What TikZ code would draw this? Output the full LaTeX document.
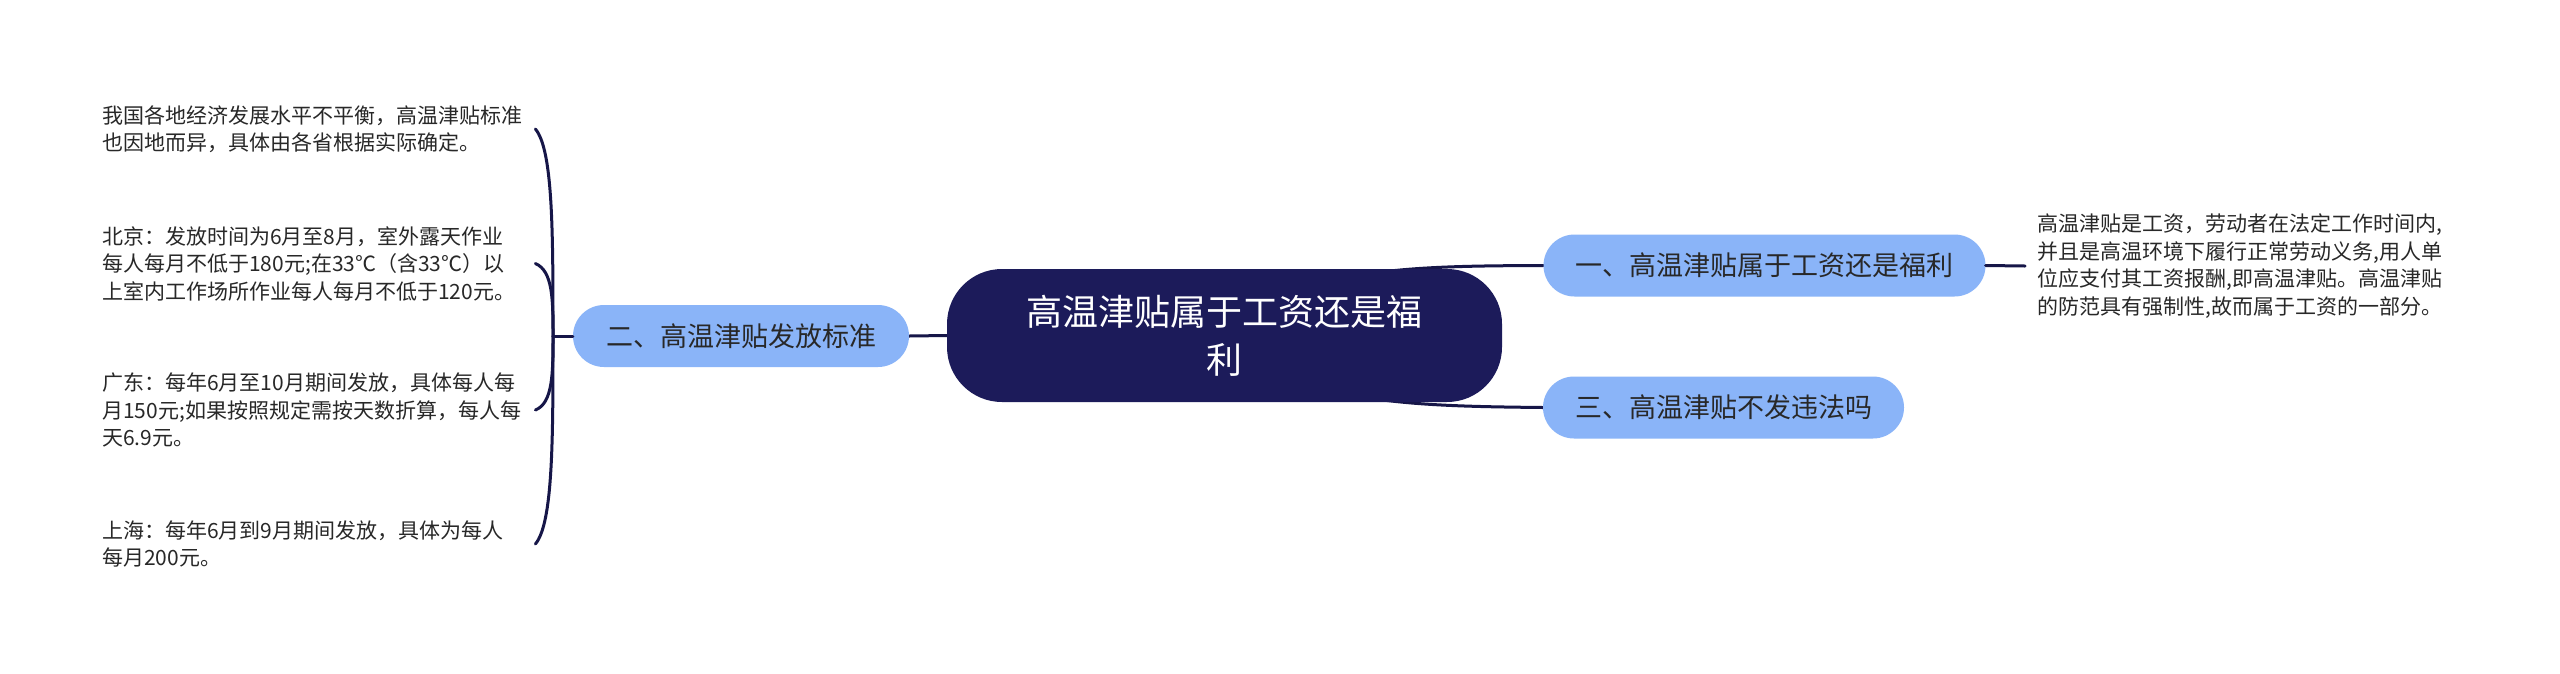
\documentclass[tikz,border=0pt]{standalone}
\usepackage{fontspec}
\newfontfamily\cjk{Noto Sans CJK SC}
\usetikzlibrary{backgrounds}
\definecolor{navy}{RGB}{28,27,90}
\definecolor{edgec}{RGB}{22,22,72}
\definecolor{childfill}{RGB}{138,180,248}
\definecolor{txt}{RGB}{40,40,40}
\tikzset{
  rootbox/.style={fill=navy, draw=none, rounded corners=55pt, minimum width=555pt, minimum height=133pt,
    text=white, font=\cjk\fontsize{36pt}{48pt}\selectfont, align=center, inner sep=0pt},
  childbox/.style={fill=childfill, draw=none, rounded corners=31pt, minimum height=62pt, text=txt,
    font=\cjk\fontsize{27pt}{32pt}\selectfont, inner sep=0pt},
  leaftext/.style={font=\cjk\fontsize{21pt}{27.5pt}\selectfont, text=txt, align=left, inner sep=0pt, anchor=west},
  conn/.style={draw=edgec, line width=3pt, line cap=round}
}
\begin{document}
\begin{tikzpicture}[x=1pt,y=-1pt]
\useasboundingbox (0,0) rectangle (2560,673);
% nodes
\node[rootbox] (root) at (1224.5,335.5) {高温津贴属于工资还是福\\利};
\node[childbox, minimum width=442pt] (c1) at (1764.5,265.5) {一、高温津贴属于工资还是福利};
\node[childbox, minimum width=336pt] (c2) at (741,336) {二、高温津贴发放标准};
\node[childbox, minimum width=361pt] (c3) at (1723.5,407.5) {三、高温津贴不发违法吗};
\node[leaftext, inner xsep=12pt] (r1) at (2025,266) {高温津贴是工资，劳动者在法定工作时间内,\\并且是高温环境下履行正常劳动义务,用人单\\位应支付其工资报酬,即高温津贴。高温津贴\\的防范具有强制性,故而属于工资的一部分。};
\node[leaftext, text width=433pt] (l1) at (102,129) {我国各地经济发展水平不平衡，高温津贴标准\\也因地而异，具体由各省根据实际确定。};
\node[leaftext, text width=433pt] (l2) at (102,263.5) {北京：发放时间为6月至8月，室外露天作业\\每人每月不低于180元;在33℃（含33℃）以\\上室内工作场所作业每人每月不低于120元。};
\node[leaftext, text width=433pt] (l3) at (102,410) {广东：每年6月至10月期间发放，具体每人每\\月150元;如果按照规定需按天数折算，每人每\\天6.9元。};
\node[leaftext, text width=433pt] (l4) at (102,544) {上海：每年6月到9月期间发放，具体为每人\\每月200元。};
\coordinate (b) at (553,336);
% connectors
\begin{scope}[on background layer]
\fill[white] (0,0) rectangle (2560,673);
\draw[conn] (root.center) .. controls (1300,268) and (1400,266) .. (c1.west);
\draw[conn] (root.center) .. controls (1300,403) and (1400,406) .. (c3.west);
\draw[conn] (c2.east) -- (root.west);
\end{scope}
\draw[conn] (c1.east) -- (r1.west);
\draw[conn] (c2.west) -- (b);
\draw[conn] (b) .. controls (553,232) and (553,150) .. (l1.east);
\draw[conn] (b) .. controls (553,300) and (553,271) .. (l2.east);
\draw[conn] (b) .. controls (553,373) and (553,403) .. (l3.east);
\draw[conn] (b) .. controls (553,440) and (553,523) .. (l4.east);
\end{tikzpicture}
\end{document}
